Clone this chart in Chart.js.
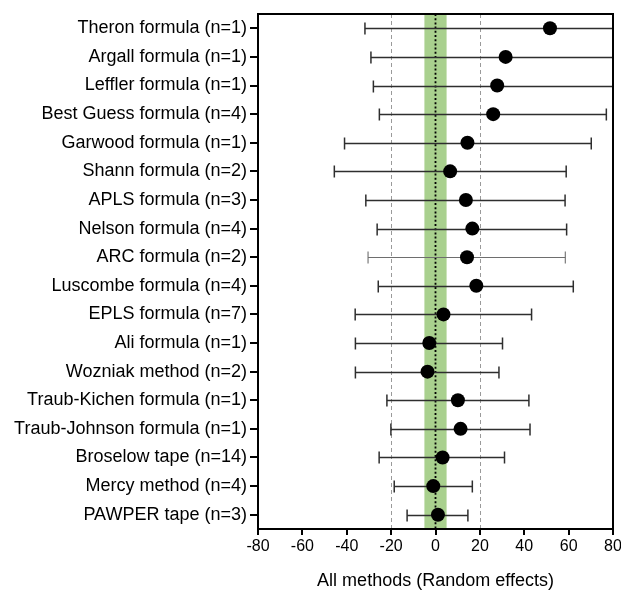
<!DOCTYPE html>
<html>
<head>
<meta charset="utf-8">
<script src="https://cdn.jsdelivr.net/npm/chart.js@4/dist/chart.umd.min.js"></script>
<style>
html,body{margin:0;padding:0;background:#fff;}
#wrap{width:621px;height:590px;position:relative;}
</style>
</head>
<body>
<div id="wrap"><canvas id="c" width="621" height="590"></canvas></div>
<script>
const methods = [
  "Theron formula (n=1)", "Argall formula (n=1)", "Leffler formula (n=1)",
  "Best Guess formula (n=4)", "Garwood formula (n=1)", "Shann formula (n=2)",
  "APLS formula (n=3)", "Nelson formula (n=4)", "ARC formula (n=2)",
  "Luscombe formula (n=4)", "EPLS formula (n=7)", "Ali formula (n=1)",
  "Wozniak method (n=2)", "Traub-Kichen formula (n=1)", "Traub-Johnson formula (n=1)",
  "Broselow tape (n=14)", "Mercy method (n=4)", "PAWPER tape (n=3)"
];
const estimate = [51.6, 31.6, 27.8, 26.0, 14.4, 6.6, 13.7, 16.6, 14.2, 18.4, 3.6, -2.8, -3.6, 10.1, 11.3, 3.2, -1.0, 1.1];
const lower    = [-31.8, -29.1, -28.0, -25.3, -41.0, -45.6, -31.4, -26.3, -30.4, -25.8, -36.2, -36.1, -36.1, -21.9, -20.1, -25.4, -18.6, -12.8];
const upper    = [95.0, 92.0, 90.0, 77.0, 70.2, 58.9, 58.4, 59.1, 58.5, 62.1, 43.3, 30.2, 28.6, 42.1, 42.6, 31.1, 16.6, 14.6];
const xTicks = [-80, -60, -40, -20, 0, 20, 40, 60, 80];
const equivalenceBand = [-5, 5];
const referenceLines = [-20, 20];
const nullLine = 0;

const FONT = "'Liberation Sans', Arial, Helvetica, sans-serif";

const forestPlugin = {
  id: 'forest',
  beforeDatasetsDraw(chart) {
    const {ctx, chartArea: a, scales: {x, y}} = chart;
    ctx.save();
    ctx.beginPath();
    ctx.rect(a.left, a.top, a.right - a.left, a.bottom - a.top);
    ctx.clip();
    const b0 = x.getPixelForValue(equivalenceBand[0]);
    const b1 = x.getPixelForValue(equivalenceBand[1]);
    ctx.fillStyle = '#a9d08e';
    ctx.fillRect(b0, a.top, b1 - b0, a.bottom - a.top);
    ctx.strokeStyle = '#9a9a9a';
    ctx.lineWidth = 1;
    ctx.setLineDash([4, 3]);
    referenceLines.forEach(v => {
      const px = Math.round(x.getPixelForValue(v)) + 0.5;
      ctx.beginPath(); ctx.moveTo(px, a.top); ctx.lineTo(px, a.bottom); ctx.stroke();
    });
    ctx.strokeStyle = '#000';
    ctx.lineWidth = 1.8;
    ctx.setLineDash([2, 2.2]);
    const p0 = x.getPixelForValue(nullLine);
    ctx.beginPath(); ctx.moveTo(p0, a.top); ctx.lineTo(p0, a.bottom); ctx.stroke();
    ctx.setLineDash([]);
    methods.forEach((m, i) => {
      const py = Math.round(y.getPixelForValue(i)) + 0.5;
      const xl = x.getPixelForValue(lower[i]);
      const xu = x.getPixelForValue(upper[i]);
      ctx.strokeStyle = (i === 8) ? '#6e6e6e' : '#2e2e2e';
      ctx.lineWidth = (i === 8) ? 1.1 : 1.5;
      ctx.beginPath(); ctx.moveTo(xl, py); ctx.lineTo(xu, py); ctx.stroke();
      [xl, xu].forEach(px => {
        ctx.beginPath(); ctx.moveTo(px, py - 6); ctx.lineTo(px, py + 6); ctx.stroke();
      });
    });
    ctx.restore();
  },
  afterDraw(chart) {
    const {ctx, chartArea: a} = chart;
    ctx.save();
    ctx.strokeStyle = '#000';
    ctx.lineWidth = 2;
    ctx.strokeRect(a.left, a.top, a.right - a.left, a.bottom - a.top);
    ctx.restore();
  }
};

new Chart(document.getElementById('c'), {
  type: 'scatter',
  data: {
    labels: methods,
    datasets: [{
      data: methods.map((m, i) => ({x: estimate[i], y: m})),
      pointRadius: 7,
      pointHoverRadius: 7,
      pointBackgroundColor: '#000',
      pointBorderColor: '#000',
      pointBorderWidth: 0,
      showLine: false
    }]
  },
  options: {
    responsive: false,
    animation: false,
    devicePixelRatio: 1,
    layout: {padding: {top: 14, right: 0, bottom: 0, left: 0}},
    plugins: {legend: {display: false}, tooltip: {enabled: false}},
    scales: {
      x: {
        type: 'linear',
        min: -80, max: 80,
        afterBuildTicks(s) { s.ticks = xTicks.map(v => ({value: v})); },
        afterFit(s) { s.height = 61; s.paddingRight = 8; },
        border: {display: true, color: '#000', width: 2},
        grid: {display: true, drawOnChartArea: false, drawTicks: true, tickLength: 6, color: '#000', lineWidth: 2},
        ticks: {color: '#000', font: {family: FONT, size: 16}, padding: 2, maxRotation: 0},
        title: {display: true, text: 'All methods (Random effects)', color: '#000', font: {family: FONT, size: 18, lineHeight: 1.0}, padding: {top: 0, bottom: 0}}
      },
      y: {
        type: 'category',
        labels: methods,
        offset: true,
        afterFit(s) { s.width = 258; },
        border: {display: true, color: '#000', width: 2},
        grid: {display: true, drawOnChartArea: false, drawTicks: true, tickLength: 8, color: '#000', lineWidth: 2, offset: false},
        ticks: {color: '#000', font: {family: FONT, size: 18}, padding: 3, autoSkip: false}
      }
    }
  },
  plugins: [forestPlugin]
});
</script>
</body>
</html>
